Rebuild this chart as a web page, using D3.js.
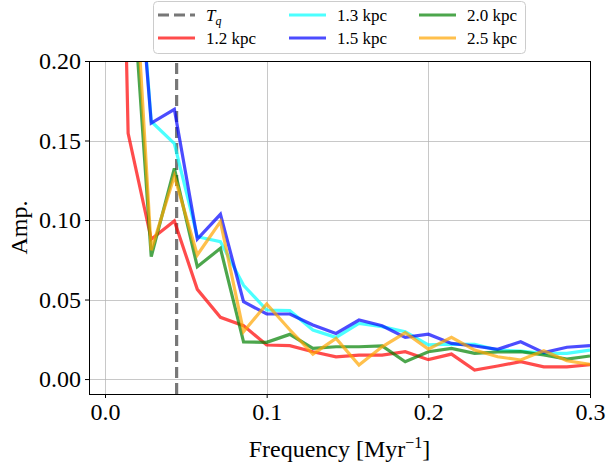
<!DOCTYPE html>
<html>
<head>
<meta charset="utf-8">
<script src="https://cdn.jsdelivr.net/npm/d3@7"></script>
<style>
  html, body { margin: 0; padding: 0; background: #fff; }
  svg { display: block; font-family: "Liberation Serif", "DejaVu Serif", serif; }
</style>
</head>
<body>
<script>
// frequencies in Myr^-1 (first point is off the top of the chart)
var freqs = [0, 0.0143, 0.0286, 0.0429, 0.0571, 0.0714, 0.0857, 0.1, 0.1143, 0.1286, 0.1429,
  0.1571, 0.1714, 0.1857, 0.2, 0.2143, 0.2286, 0.2429, 0.2571, 0.2714, 0.2857, 0.3];

var amp12 = [0.82, 0.1545, 0.0879, 0.0994, 0.0564, 0.0388, 0.0336, 0.0214, 0.021, 0.0172, 0.014,
  0.0151, 0.0151, 0.0172, 0.0122, 0.0157, 0.0057, 0.0082, 0.0109, 0.0077, 0.0077, 0.009];
var amp13 = [0.8, 0.35, 0.162, 0.148, 0.0895, 0.0864, 0.059, 0.0434, 0.043, 0.0308, 0.0262,
  0.035, 0.033, 0.0298, 0.0215, 0.022, 0.0218, 0.0182, 0.0176, 0.0162, 0.0162, 0.0182];
var amp15 = [0.8, 0.342, 0.161, 0.1696, 0.088, 0.1036, 0.0486, 0.0409, 0.0409, 0.034, 0.0287,
  0.0371, 0.0335, 0.0262, 0.0282, 0.0224, 0.0208, 0.0187, 0.0235, 0.0166, 0.02, 0.021];
var amp20 = [0.8, 0.29, 0.077, 0.1325, 0.0706, 0.0822, 0.0233, 0.0231, 0.0281, 0.0193, 0.0203,
  0.0203, 0.0208, 0.0109, 0.0172, 0.0193, 0.0162, 0.017, 0.0172, 0.0151, 0.0126, 0.0145];
var amp25 = [0.8, 0.33, 0.081, 0.1277, 0.078, 0.099, 0.0298, 0.0472, 0.031, 0.0157, 0.0256,
  0.0088, 0.0203, 0.0291, 0.0188, 0.0262, 0.0182, 0.014, 0.012, 0.0178, 0.0115, 0.0092];

var seriesNames = ["1.2 kpc", "1.3 kpc", "1.5 kpc", "2.0 kpc", "2.5 kpc"];
var seriesColors = ["red", "cyan", "blue", "green", "orange"];
var seriesValues = [amp12, amp13, amp15, amp20, amp25];

var tq = 0.0443;
var xTicks = [0, 0.1, 0.2, 0.3];
var yTicks = [0, 0.05, 0.1, 0.15, 0.2];

var W = 606, H = 468;
var pLeft = 89, pRight = 590, pTop = 61, pBottom = 394;

var svg = d3.select(document.body).append("svg")
  .attr("width", W).attr("height", H);

var x = d3.scaleLinear().domain([-0.0099, 0.3]).range([pLeft, pRight]);
var y = d3.scaleLinear().domain([-0.0094, 0.2]).range([pBottom, pTop]);

svg.append("clipPath").attr("id", "plot")
  .append("rect")
  .attr("x", pLeft).attr("y", pTop)
  .attr("width", pRight - pLeft).attr("height", pBottom - pTop);

// grid
var grid = svg.append("g").attr("stroke", "#b0b0b0").attr("stroke-opacity", 0.7).attr("stroke-width", 1);
xTicks.forEach(function(t) {
  var px = Math.round(x(t)) + 0.5;
  grid.append("line").attr("x1", px).attr("x2", px).attr("y1", pTop).attr("y2", pBottom);
});
yTicks.forEach(function(t) {
  var py = Math.round(y(t)) + 0.5;
  grid.append("line").attr("x1", pLeft).attr("x2", pRight).attr("y1", py).attr("y2", py);
});

var plot = svg.append("g").attr("clip-path", "url(#plot)");

// T_q marker
plot.append("line")
  .attr("x1", x(tq)).attr("x2", x(tq))
  .attr("y1", pBottom).attr("y2", pTop)
  .attr("stroke", "#777").attr("stroke-width", 3.2)
  .attr("stroke-dasharray", "11,5");

var line = d3.line()
  .x(function(d, i) { return x(freqs[i]); })
  .y(function(d) { return y(d); });

seriesValues.forEach(function(vals, i) {
  plot.append("path")
    .attr("d", line(vals))
    .attr("fill", "none")
    .attr("stroke", seriesColors[i])
    .attr("stroke-opacity", 0.7)
    .attr("stroke-width", 3.2)
    .attr("stroke-linejoin", "miter");
});

// axes
var xAxis = svg.append("g").attr("transform", "translate(0," + pBottom + ")")
  .call(d3.axisBottom(x).tickValues(xTicks).tickFormat(d3.format(".1f")).tickSize(4).tickPadding(5));
var yAxis = svg.append("g").attr("transform", "translate(" + pLeft + ",0)")
  .call(d3.axisLeft(y).tickValues(yTicks).tickFormat(d3.format(".2f")).tickSize(4).tickPadding(4));
[xAxis, yAxis].forEach(function(a) {
  a.select(".domain").remove();
  a.selectAll("text").attr("font-size", 24).attr("fill", "#000")
    .attr("font-family", "Liberation Serif, DejaVu Serif, serif");
  a.selectAll("line").attr("stroke", "#000");
});

svg.append("rect")
  .attr("x", pLeft + 0.5).attr("y", pTop + 0.5)
  .attr("width", pRight - pLeft).attr("height", pBottom - pTop)
  .attr("fill", "none").attr("stroke", "#000").attr("stroke-width", 1);

// axis labels
var xl = svg.append("text")
  .attr("x", (pLeft + pRight) / 2).attr("y", 457)
  .attr("text-anchor", "middle").attr("font-size", 24);
xl.append("tspan").text("Frequency [Myr");
xl.append("tspan").attr("dy", -9).attr("font-size", 16).text("\u22121");
xl.append("tspan").attr("dy", 9).text("]");

svg.append("text")
  .attr("transform", "translate(27," + (pTop + pBottom) / 2 + ") rotate(-90)")
  .attr("text-anchor", "middle").attr("font-size", 24)
  .text("Amp.");

// legend
var lg = svg.append("g");
lg.append("rect")
  .attr("x", 153.5).attr("y", 1.5).attr("width", 372).attr("height", 52)
  .attr("rx", 4).attr("fill", "#fff").attr("fill-opacity", 0.8)
  .attr("stroke", "#ccc");

var entries = [{ name: "Tq", color: "#777", dash: true }];
seriesNames.forEach(function(n, i) {
  entries.push({ name: n, color: seriesColors[i], dash: false });
});
var colX = [158, 289, 419];
var rowY = [15, 38];
entries.forEach(function(e, i) {
  var cx = colX[Math.floor(i / 2)], cy = rowY[i % 2];
  lg.append("line")
    .attr("x1", cx).attr("x2", cx + 37).attr("y1", cy).attr("y2", cy)
    .attr("stroke", e.color).attr("stroke-width", 3.2)
    .attr("stroke-opacity", e.dash ? 1 : 0.7)
    .attr("stroke-dasharray", e.dash ? "11,5" : null);
  var t = lg.append("text")
    .attr("x", cx + 48).attr("y", cy + 6)
    .attr("font-size", 17);
  if (e.name === "Tq") {
    t.append("tspan").attr("font-style", "italic").text("T");
    t.append("tspan").attr("font-style", "italic").attr("font-size", 12).attr("dy", 4).text("q");
  } else {
    t.text(e.name);
  }
});
</script>
</body>
</html>
